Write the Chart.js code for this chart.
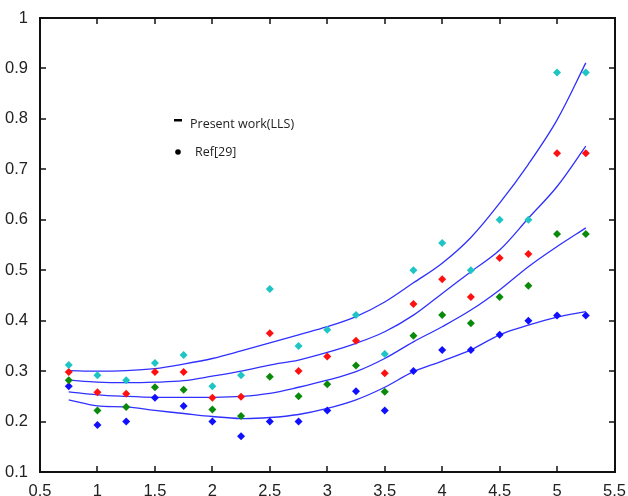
<!DOCTYPE html>
<html>
<head>
<meta charset="utf-8">
<script src="https://cdn.jsdelivr.net/npm/chart.js@4/dist/chart.umd.min.js"></script>
<style>
  html, body { margin: 0; padding: 0; background: #fff; }
  #wrap { width: 628px; height: 496px; }
</style>
</head>
<body>
<div id="wrap"><canvas id="myChart" width="628" height="496"></canvas></div>
<script>
const xs = [0.75, 1, 1.25, 1.5, 1.75, 2, 2.25, 2.5, 2.75, 3, 3.25, 3.5, 3.75, 4, 4.25, 4.5, 4.75, 5, 5.25];

// Ref[29] points
const refCyan  = [0.312, 0.292, 0.282, 0.316, 0.332, 0.270, 0.292, 0.463, 0.350, 0.382, 0.411, 0.334, 0.500, 0.554, 0.500, 0.600, 0.600, 0.892, 0.892];
const refRed   = [0.298, 0.258, 0.255, 0.298, 0.298, 0.247, 0.249, 0.375, 0.300, 0.329, 0.360, 0.296, 0.433, 0.482, 0.447, 0.524, 0.532, 0.732, 0.732];
const refGreen = [0.282, 0.222, 0.229, 0.268, 0.263, 0.224, 0.211, 0.289, 0.250, 0.274, 0.311, 0.259, 0.370, 0.411, 0.395, 0.447, 0.469, 0.572, 0.572];
const refBlue  = [0.270, 0.193, 0.200, 0.247, 0.231, 0.200, 0.171, 0.200, 0.200, 0.222, 0.260, 0.222, 0.300, 0.342, 0.342, 0.372, 0.400, 0.410, 0.410];

// Present work (LLS) curves
const fit1 = [0.301, 0.300, 0.301, 0.305, 0.314, 0.325, 0.340, 0.356, 0.372, 0.388, 0.408, 0.437, 0.475, 0.514, 0.565, 0.633, 0.710, 0.798, 0.911];
const fit2 = [0.282, 0.278, 0.277, 0.278, 0.281, 0.290, 0.300, 0.312, 0.322, 0.337, 0.355, 0.378, 0.411, 0.454, 0.497, 0.540, 0.603, 0.666, 0.746];
const fit3 = [0.259, 0.253, 0.250, 0.248, 0.248, 0.248, 0.250, 0.256, 0.268, 0.282, 0.299, 0.325, 0.358, 0.388, 0.421, 0.461, 0.507, 0.547, 0.584];
const fit4 = [0.243, 0.231, 0.229, 0.222, 0.216, 0.210, 0.206, 0.208, 0.214, 0.226, 0.243, 0.268, 0.299, 0.320, 0.342, 0.372, 0.391, 0.407, 0.418];

const xTicks = [0.5, 1, 1.5, 2, 2.5, 3, 3.5, 4, 4.5, 5, 5.5];
const yTicks = [0.1, 0.2, 0.3, 0.4, 0.5, 0.6, 0.7, 0.8, 0.9, 1];

const pts = (ys) => xs.map((x, i) => ({ x: x, y: ys[i] }));

function refSet(ys, color) {
  return {
    type: 'scatter', data: pts(ys), showLine: false,
    pointStyle: 'rectRot', pointRadius: 4, pointBorderWidth: 0,
    backgroundColor: color, borderColor: color
  };
}
function fitSet(ys) {
  return {
    type: 'line', data: pts(ys), borderColor: '#3030ff', borderWidth: 1.3,
    pointRadius: 0, fill: false, tension: 0.35
  };
}

// frame, inward ticks on all four sides, and the text legend
const boxPlugin = {
  id: 'box',
  afterDraw(chart) {
    const { ctx, chartArea: a, scales: { x, y } } = chart;
    const L = Math.round(a.left), R = Math.round(a.right);
    const T = Math.round(a.top), B = Math.round(a.bottom);
    ctx.save();
    ctx.fillStyle = '#111';
    ctx.fillRect(L - 1, T - 1, R - L + 2, 2);
    ctx.fillRect(L - 1, B - 1, R - L + 2, 2);
    ctx.fillRect(L - 1, T - 1, 2, B - T + 2);
    ctx.fillRect(R - 1, T - 1, 2, B - T + 2);
    xTicks.forEach(v => {
      const px = Math.round(x.getPixelForValue(v));
      ctx.fillRect(px - 0.75, B - 6, 1.5, 6);
      ctx.fillRect(px - 0.75, T, 1.5, 6);
    });
    yTicks.forEach(v => {
      const py = Math.round(y.getPixelForValue(v));
      ctx.fillRect(L, py - 0.75, 6, 1.5);
      ctx.fillRect(R - 6, py - 0.75, 6, 1.5);
    });

    // legend
    ctx.fillStyle = '#000';
    ctx.fillRect(174, 119, 8, 2.5);
    ctx.beginPath();
    ctx.arc(178, 152, 2.8, 0, Math.PI * 2);
    ctx.fill();
    ctx.fillStyle = '#222';
    ctx.font = '12.5px "Open Sans", "Liberation Sans", sans-serif';
    ctx.textBaseline = 'middle';
    ctx.fillText('Present work(LLS)', 190, 124);
    ctx.fillText('Ref[29]', 195, 152);
    ctx.restore();
  }
};

const tickFont = { family: '"Liberation Sans", Arial, sans-serif', size: 16.5 };
const fmt = v => String(+Number(v).toFixed(2));

new Chart(document.getElementById('myChart').getContext('2d'), {
  data: {
    datasets: [
      refSet(refCyan, '#1fc4c4'),
      refSet(refRed, '#ff1010'),
      refSet(refGreen, '#0a8a0a'),
      refSet(refBlue, '#1010ff'),
      fitSet(fit1), fitSet(fit2), fitSet(fit3), fitSet(fit4)
    ]
  },
  options: {
    responsive: false,
    animation: false,
    layout: { padding: { top: 18, right: 13, left: 0, bottom: 0 } },
    plugins: { legend: { display: false }, tooltip: { enabled: false } },
    scales: {
      x: {
        type: 'linear', min: 0.5, max: 5.5,
        afterBuildTicks: s => { s.ticks = xTicks.map(v => ({ value: v })); },
        afterFit: s => { s.height = 24; },
        grid: { display: false },
        border: { display: false },
        ticks: { font: tickFont, color: '#222', padding: 2, maxRotation: 0, autoSkip: false, callback: fmt }
      },
      y: {
        type: 'linear', min: 0.1, max: 1,
        afterBuildTicks: s => { s.ticks = yTicks.map(v => ({ value: v })); },
        afterFit: s => { s.width = 40; },
        grid: { display: false },
        border: { display: false },
        ticks: { font: tickFont, color: '#222', padding: 4, autoSkip: false, callback: fmt }
      }
    }
  },
  plugins: [boxPlugin]
});
</script>
</body>
</html>
